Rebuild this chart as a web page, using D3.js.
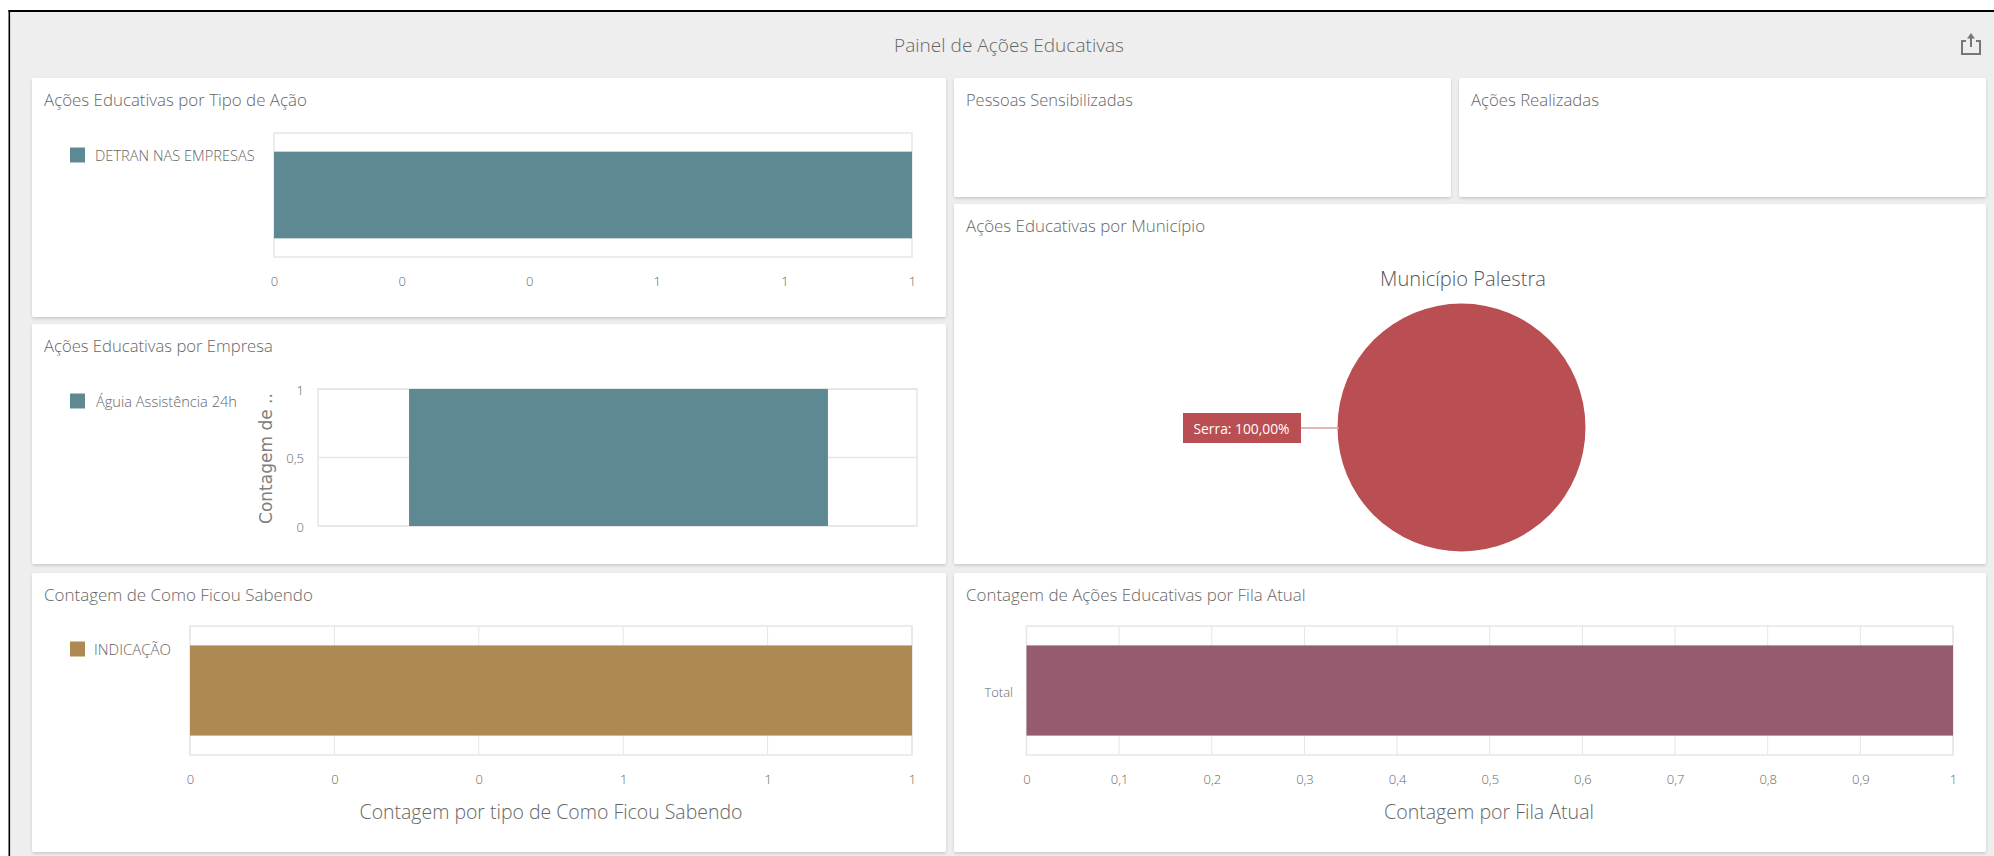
<!DOCTYPE html>
<html><head><meta charset="utf-8">
<script src="https://cdnjs.cloudflare.com/ajax/libs/d3/7.8.5/d3.min.js"></script>
<style>
html,body{margin:0;padding:0;background:#fff;overflow:hidden}
svg{display:block}
text{font-family:"Open Sans",sans-serif;fill:#666;font-weight:300}
</style></head><body><svg id="c" width="1994" height="856"></svg>
<script>
const dashboardTitle = "Painel de Ações Educativas";
const cardTitles = ["Ações Educativas por Tipo de Ação","Ações Educativas por Empresa","Contagem de Como Ficou Sabendo","Pessoas Sensibilizadas","Ações Realizadas","Ações Educativas por Município","Contagem de Ações Educativas por Fila Atual"];

const tipoCategories = ["DETRAN NAS EMPRESAS"];
const tipoValues = [1];
const tipoTicks = [0,0.2,0.4,0.6,0.8,1];

const empresaCategories = ["Águia Assistência 24h"];
const empresaValues = [1];
const empresaTicks = [0,0.5,1];

const sabendoCategories = ["INDICAÇÃO"];
const sabendoValues = [1];
const sabendoTicks = [0,0.2,0.4,0.6,0.8,1];

const filaCategories = ["Total"];
const filaValues = [1];
const filaTicks = [0,0.1,0.2,0.3,0.4,0.5,0.6,0.7,0.8,0.9,1];

const municipioCategories = ["Serra"];
const municipioValues = [100];

const TEAL="#5f8992", BROWN="#ae8a52", MAUVE="#945c6e", RED="#b94e53", GRID="#e6e6e6";
const svg=d3.select("#c");
const defs=svg.append("defs");
defs.append("filter").attr("id","sh").attr("x","-2%").attr("y","-3%").attr("width","104%").attr("height","108%")
  .append("feDropShadow").attr("dx",0).attr("dy",1.5).attr("stdDeviation",1.6).attr("flood-color","#000").attr("flood-opacity",.16);

// scale a text's font so it spans the width
function fit(sel,w){
  const n=sel.node();
  sel.attr("font-size",20);
  sel.attr("font-size",20*w/n.getComputedTextLength());
  return sel;
}

svg.append("rect").attr("x",9).attr("y",11).attr("width",1985).attr("height",845).attr("fill","#eeeeee");
svg.append("line").attr("x1",8.5).attr("x2",1994).attr("y1",11).attr("y2",11).attr("stroke","#000").attr("stroke-width",2);
svg.append("line").attr("x1",9.3).attr("x2",9.3).attr("y1",10).attr("y2",856).attr("stroke","#000").attr("stroke-width",1.6);

fit(svg.append("text").attr("x",1009).attr("y",45).attr("text-anchor","middle").attr("dominant-baseline","central").text(dashboardTitle),230);

// share icon
const ic=svg.append("g").attr("fill","none").attr("stroke","#777").attr("stroke-width",2);
ic.append("path").attr("d","M1966 41H1962V54H1980V41H1976");
ic.append("path").attr("d","M1971 47V36");
svg.append("path").attr("d","M1971 33L1975 38.5H1967Z").attr("fill","#777");

const cards=[[32,78,914,239,0,263],[32,324,914,240,1,229],[32,573,914,279,2,269],[954,78,497,119,3,167],[1459,78,527,119,4,128],[954,204,1032,360,5,239],[954,573,1032,279,6,340]];
cards.forEach(([x,y,w,h,i,tw])=>{
  svg.append("rect").attr("x",x).attr("y",y).attr("width",w).attr("height",h).attr("rx",2).attr("fill","#fff").attr("filter","url(#sh)");
  fit(svg.append("text").attr("x",x+12).attr("y",y+21.5).attr("dominant-baseline","central").text(cardTitles[i]),tw);
});

const fmt=d=>d3.format(",.1~f")(d).replace(".",",");
const fmt0=d=>d3.format(".0f")(d);

function frame(g,x0,x1,y0,y1){
  g.append("rect").attr("x",x0).attr("y",y0).attr("width",x1-x0).attr("height",y1-y0).attr("fill","none").attr("stroke",GRID).attr("stroke-width",1.5);
}
function legend(x,yc,color,label,tx,tw){
  svg.append("rect").attr("x",x).attr("y",yc-7.5).attr("width",15).attr("height",15).attr("fill",color);
  fit(svg.append("text").attr("x",tx).attr("y",yc).attr("dominant-baseline","central").text(label),tw);
}
function hbar(o){
  const x=d3.scaleLinear().domain([0,1]).range([o.x0,o.x1]);
  const y=d3.scaleBand().domain(o.cats).range([o.y0,o.y1]).paddingInner(0).paddingOuter(.215);
  const g=svg.append("g");
  frame(g,o.x0,o.x1,o.y0,o.y1);
  if(o.grid) g.selectAll(".gl").data(o.ticks).join("line").attr("x1",x).attr("x2",x).attr("y1",o.y0).attr("y2",o.y1).attr("stroke",GRID).attr("stroke-width",1);
  g.selectAll(".b").data(o.vals).join("rect").attr("x",o.x0).attr("y",(d,i)=>y(o.cats[i])).attr("width",d=>x(d)-o.x0).attr("height",y.bandwidth()).attr("fill",o.color);
  const ax=svg.append("g").attr("transform",`translate(0,${o.y1+18})`).call(d3.axisBottom(x).tickValues(o.ticks).tickSize(0).tickPadding(0).tickFormat(o.fmt));
  ax.select(".domain").remove();
  ax.selectAll("text").attr("font-size",13).attr("dy","0").attr("dominant-baseline","central").attr("y",5.5).attr("font-family",'"Open Sans"');
  if(o.axisTitle) fit(svg.append("text").attr("x",o.atx).attr("y",811).attr("text-anchor","middle").attr("dominant-baseline","central").text(o.axisTitle),o.atw);
  return {x,y};
}

hbar({x0:274,x1:912,y0:133,y1:257,cats:tipoCategories,vals:tipoValues,ticks:tipoTicks,color:TEAL,fmt:fmt0,grid:false});
legend(70,155,TEAL,tipoCategories[0],95,160);

hbar({x0:190,x1:912,y0:626,y1:755,cats:sabendoCategories,vals:sabendoValues,ticks:sabendoTicks,color:BROWN,fmt:fmt0,grid:true,axisTitle:"Contagem por tipo de Como Ficou Sabendo",atx:551,atw:383});
legend(70,649,BROWN,sabendoCategories[0],94,77);

hbar({x0:1026.5,x1:1953,y0:626,y1:755,cats:filaCategories,vals:filaValues,ticks:filaTicks,color:MAUVE,fmt:fmt,grid:true,axisTitle:"Contagem por Fila Atual",atx:1489,atw:210});
svg.append("text").attr("x",1013).attr("y",692).attr("text-anchor","end").attr("dominant-baseline","central").attr("font-size",13).text(filaCategories[0]);

// vertical bar chart
(function(){
  const x0=318,x1=917,y0=389,y1=526;
  const y=d3.scaleLinear().domain([0,1]).range([y1,y0]);
  const x=d3.scaleBand().domain(empresaCategories).range([x0,x1]).paddingOuter(.215).paddingInner(0);
  const g=svg.append("g");
  frame(g,x0,x1,y0,y1);
  g.selectAll(".gl").data(empresaTicks).join("line").attr("x1",x0).attr("x2",x1).attr("y1",y).attr("y2",y).attr("stroke",GRID).attr("stroke-width",1.5);
  g.selectAll(".b").data(empresaValues).join("rect").attr("x",(d,i)=>x(empresaCategories[i])+1).attr("width",x.bandwidth()).attr("y",d=>y(d)).attr("height",d=>y1-y(d)).attr("fill",TEAL);
  const ax=svg.append("g").attr("transform",`translate(${x0-14},0)`).call(d3.axisLeft(y).tickValues(empresaTicks).tickSize(0).tickPadding(0).tickFormat(fmt));
  ax.select(".domain").remove();
  ax.selectAll("text").attr("font-size",13).attr("font-family",'"Open Sans"').attr("dy",0).attr("dominant-baseline","central");
  fit(svg.append("text").attr("transform","translate(266,524) rotate(-90)").attr("dominant-baseline","central").attr("style",'font-family:"DejaVu Sans";fill:#808080;font-weight:400').text("Contagem de .."),131);
  legend(70,401,TEAL,empresaCategories[0],96,141);
})();

// pie
(function(){
  const cx=1461.5,cy=427.5,r=124;
  fit(svg.append("text").attr("x",1463).attr("y",278).attr("text-anchor","middle").attr("dominant-baseline","central").attr("style","fill:#555").text("Município Palestra"),166);
  const arc=d3.arc().innerRadius(0).outerRadius(r);
  const pie=d3.pie().sort(null);
  const pg=svg.append("g").attr("transform",`translate(${cx},${cy})`);
  pg.selectAll("path").data(pie(municipioValues)).join("path").attr("d",arc).attr("fill",RED);
  svg.append("line").attr("x1",1301).attr("x2",1339).attr("y1",428).attr("y2",428).attr("stroke","#dc9ea1").attr("stroke-width",1.5);
  svg.append("rect").attr("x",1183).attr("y",413).attr("width",118).attr("height",30).attr("fill",RED);
  fit(svg.append("text").attr("x",1241.5).attr("y",428).attr("text-anchor","middle").attr("dominant-baseline","central").attr("style","fill:#fff;font-weight:400").text(municipioCategories[0]+": "+d3.format(".2f")(municipioValues[0]).replace(".",",")+"%"),96);
})();
</script></body></html>
